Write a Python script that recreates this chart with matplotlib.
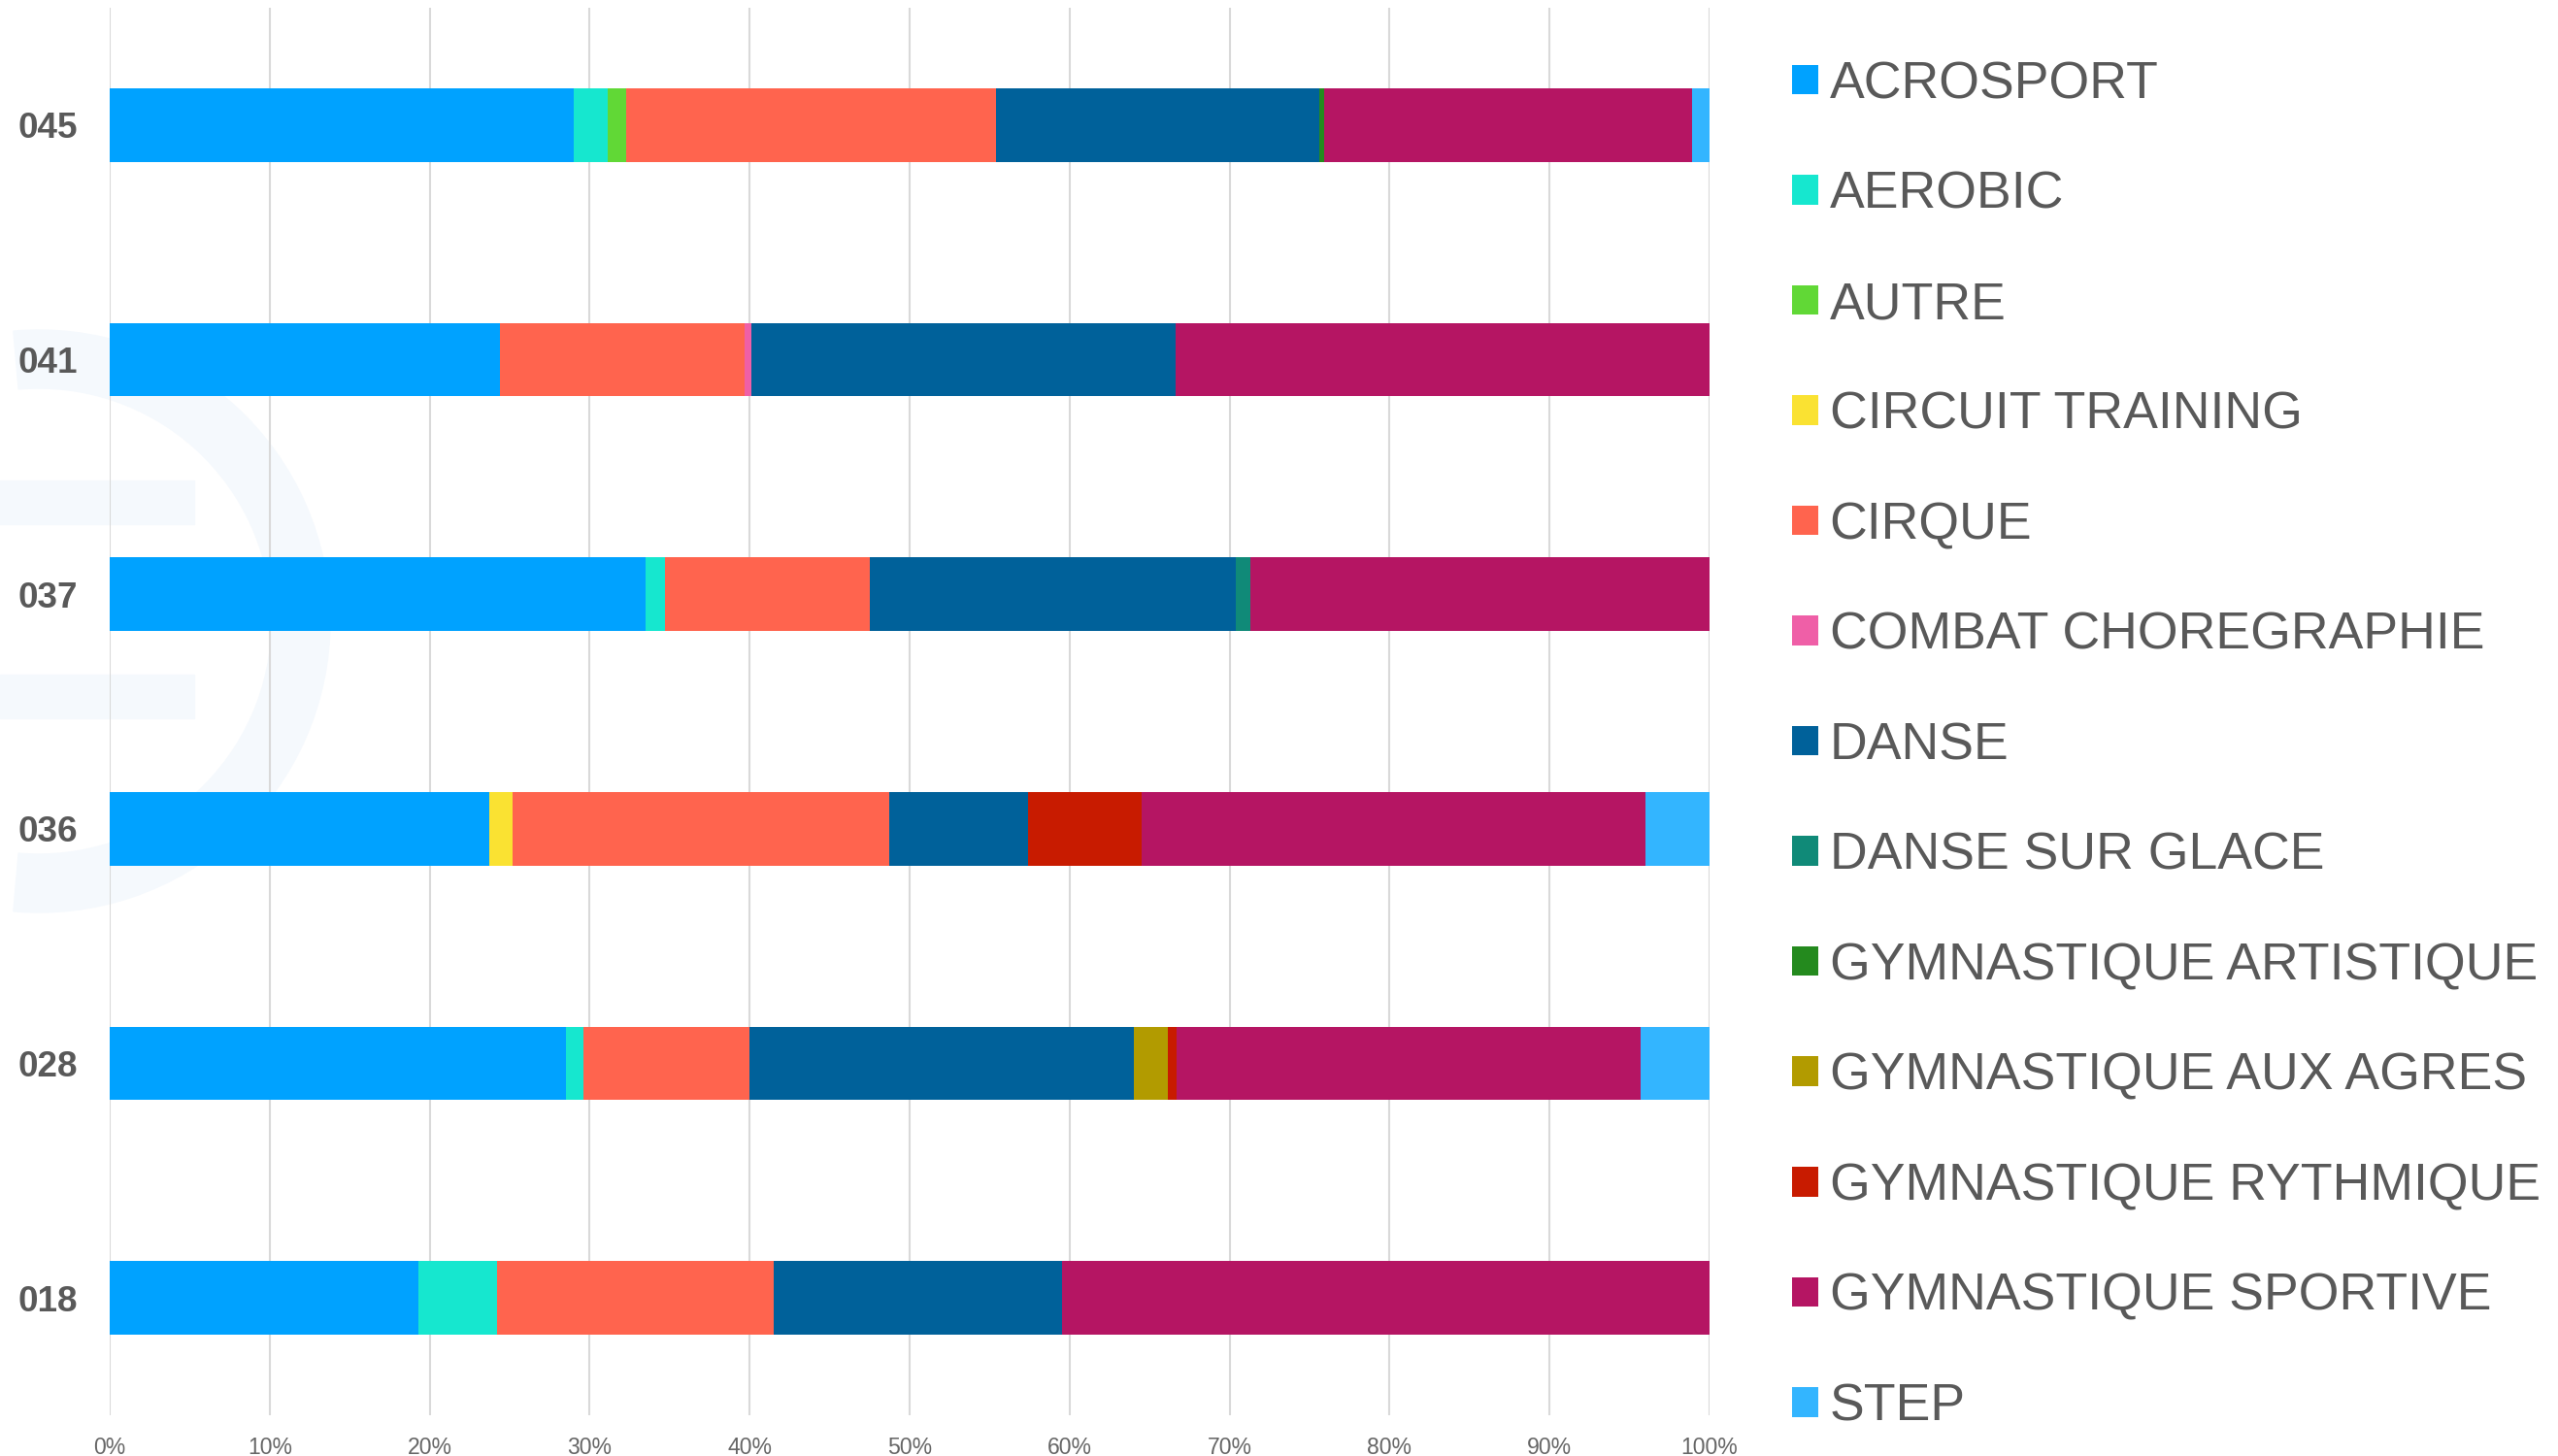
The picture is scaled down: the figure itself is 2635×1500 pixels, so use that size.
import matplotlib
matplotlib.use("Agg")
import matplotlib.pyplot as plt
import numpy as np
from matplotlib.patches import Wedge, Rectangle

plt.rcParams['font.family'] = ['Liberation Sans', 'DejaVu Sans']

my_dpi = 100
width = 2635
height = 1500

# establishments, top to bottom
sites = ['045', '041', '037', '036', '028', '018']

activities = ['ACROSPORT', 'AEROBIC', 'AUTRE', 'CIRCUIT TRAINING', 'CIRQUE',
              'COMBAT CHOREGRAPHIE', 'DANSE', 'DANSE SUR GLACE',
              'GYMNASTIQUE ARTISTIQUE', 'GYMNASTIQUE AUX AGRES',
              'GYMNASTIQUE RYTHMIQUE', 'GYMNASTIQUE SPORTIVE', 'STEP']

colors = ['#00A2FF', '#16E7CF', '#61D836', '#FAE232', '#FF644E', '#EF5FA7',
          '#00619A', '#108A78', '#248A1E', '#B29B00', '#C81B00', '#B51563',
          '#33B5FF']

# percent share per site (same order as sites)
acrosport = [29.0, 24.4, 33.5, 23.7, 28.5, 19.3]
aerobic = [2.15, 0.0, 1.2, 0.0, 1.1, 4.9]
autre = [1.15, 0.0, 0.0, 0.0, 0.0, 0.0]
circuit = [0.0, 0.0, 0.0, 1.5, 0.0, 0.0]
cirque = [23.1, 15.3, 12.8, 23.5, 10.4, 17.3]
combat = [0.0, 0.4, 0.0, 0.0, 0.0, 0.0]
danse = [20.2, 26.5, 22.9, 8.7, 24.0, 18.0]
danse_glace = [0.0, 0.0, 0.9, 0.0, 0.0, 0.0]
gym_artistique = [0.3, 0.0, 0.0, 0.0, 0.0, 0.0]
gym_agres = [0.0, 0.0, 0.0, 0.0, 2.15, 0.0]
gym_rythmique = [0.0, 0.0, 0.0, 7.1, 0.55, 0.0]
gym_sportive = [23.0, 33.4, 28.7, 31.5, 29.0, 40.5]
step = [1.1, 0.0, 0.0, 4.0, 4.3, 0.0]

series = [acrosport, aerobic, autre, circuit, cirque, combat, danse,
          danse_glace, gym_artistique, gym_agres, gym_rythmique,
          gym_sportive, step]

fig = plt.figure(figsize=(width/my_dpi, height/my_dpi), dpi=my_dpi)

# very faint watermark logo behind the chart (display pixels, origin bottom-left)
wm = '#F5F9FD'
fig.patches.append(Wedge((40, 860), 300, -95, 95, width=60, color=wm,
                         transform=None, zorder=-5))
fig.patches.append(Rectangle((0, 960), 200, 45, color=wm, transform=None, zorder=-5))
fig.patches.append(Rectangle((0, 760), 200, 45, color=wm, transform=None, zorder=-5))

ax = fig.add_axes([113/width, 42/height, 1648/width, 1450/height])
ax.patch.set_alpha(0)

y = np.arange(len(sites))
left = np.zeros(len(sites))
bars = []
for name, vals, col in zip(activities, series, colors):
    vals = np.array(vals)
    b = ax.barh(y, vals, left=left, height=0.313, color=col, label=name,
                zorder=3, linewidth=0)
    bars.append(b)
    left += vals

ax.set_xlim(0, 100)
ax.set_ylim(len(sites) - 0.5, -0.5)
ax.set_xticks(np.arange(0, 101, 10))
ax.set_xticklabels(['%d%%' % v for v in range(0, 101, 10)])
ax.set_yticks(y)
ax.set_yticklabels(sites)
ax.grid(axis='x', color='#D9D9D9', linewidth=1.5, zorder=0)
for s in ax.spines.values():
    s.set_visible(False)
ax.tick_params(axis='x', length=0, pad=16, labelsize=16.6, labelcolor='#666666')
ax.tick_params(axis='y', length=0, pad=24, labelsize=26.6, labelcolor='#595959')
for t in ax.get_yticklabels():
    t.set_fontweight('bold')

leg = fig.legend(handles=bars, labels=activities, loc='upper left',
                 bbox_to_anchor=(1846/width, 1 - 62/height),
                 frameon=False, fontsize=38.6, borderpad=0, borderaxespad=0,
                 handlelength=0.5, handleheight=0.5, handletextpad=0.22,
                 labelspacing=1.185)
for t in leg.get_texts():
    t.set_color('#595959')

fig.savefig('out.png', dpi=my_dpi)
